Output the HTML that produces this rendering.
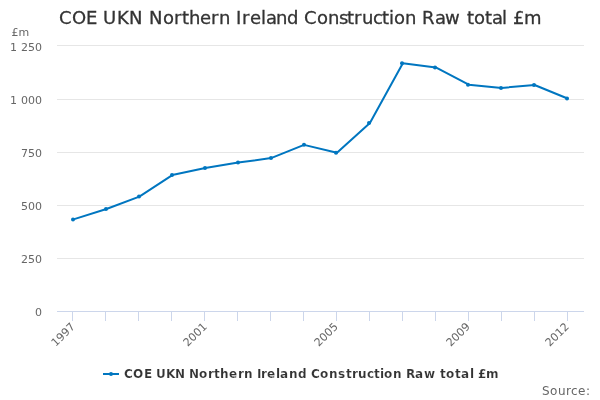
<!DOCTYPE html>
<html><head><meta charset="utf-8"><title>COE UKN Northern Ireland Construction Raw total £m</title>
<style>html,body{margin:0;padding:0;width:600px;height:400px;overflow:hidden;background:#fff}
text{font-family:"DejaVu Sans","Liberation Sans",sans-serif;font-kerning:none}</style>
</head><body>
<svg width="600" height="400" viewBox="0 0 600 400" font-family="DejaVu Sans, sans-serif" style="position:absolute;left:0;top:0">
<rect x="0" y="0" width="600" height="400" fill="#ffffff"/>
<text x="59 72 86 97 103 117 129 143 149 163 174 182 189 200 211 219 230 236 242 250 261 266 276 287 298 304 317 328 339 347 354 362 373 382 389 394 405 416 422 435 445 461 467 474 485 492 502 507 513 524" y="24" font-size="18" fill="#333333" xml:space="preserve" stroke="#333333" stroke-width="0.3">COE UKN Northern Ireland Construction Raw total £m</text>
<path d="M 57 45.5 L 584 45.5" stroke="#e6e6e6" stroke-width="1" fill="none"/>
<path d="M 57 99.5 L 584 99.5" stroke="#e6e6e6" stroke-width="1" fill="none"/>
<path d="M 57 152.5 L 584 152.5" stroke="#e6e6e6" stroke-width="1" fill="none"/>
<path d="M 57 205.5 L 584 205.5" stroke="#e6e6e6" stroke-width="1" fill="none"/>
<path d="M 57 258.5 L 584 258.5" stroke="#e6e6e6" stroke-width="1" fill="none"/>
<path d="M 57 311.5 L 584 311.5" stroke="#ccd6eb" stroke-width="1" fill="none"/>
<path d="M 72.5 311 L 72.5 321" stroke="#ccd6eb" stroke-width="1" fill="none"/>
<path d="M 105.5 311 L 105.5 321" stroke="#ccd6eb" stroke-width="1" fill="none"/>
<path d="M 138.5 311 L 138.5 321" stroke="#ccd6eb" stroke-width="1" fill="none"/>
<path d="M 171.5 311 L 171.5 321" stroke="#ccd6eb" stroke-width="1" fill="none"/>
<path d="M 204.5 311 L 204.5 321" stroke="#ccd6eb" stroke-width="1" fill="none"/>
<path d="M 237.5 311 L 237.5 321" stroke="#ccd6eb" stroke-width="1" fill="none"/>
<path d="M 270.5 311 L 270.5 321" stroke="#ccd6eb" stroke-width="1" fill="none"/>
<path d="M 303.5 311 L 303.5 321" stroke="#ccd6eb" stroke-width="1" fill="none"/>
<path d="M 336.5 311 L 336.5 321" stroke="#ccd6eb" stroke-width="1" fill="none"/>
<path d="M 369.5 311 L 369.5 321" stroke="#ccd6eb" stroke-width="1" fill="none"/>
<path d="M 402.5 311 L 402.5 321" stroke="#ccd6eb" stroke-width="1" fill="none"/>
<path d="M 435.5 311 L 435.5 321" stroke="#ccd6eb" stroke-width="1" fill="none"/>
<path d="M 468.5 311 L 468.5 321" stroke="#ccd6eb" stroke-width="1" fill="none"/>
<path d="M 501.5 311 L 501.5 321" stroke="#ccd6eb" stroke-width="1" fill="none"/>
<path d="M 534.5 311 L 534.5 321" stroke="#ccd6eb" stroke-width="1" fill="none"/>
<path d="M 567.5 311 L 567.5 321" stroke="#ccd6eb" stroke-width="1" fill="none"/>
<text x="10 17 21 28 35" y="51" font-size="11" fill="#666666" xml:space="preserve">1 250</text>
<text x="10 17 21 28 35" y="104" font-size="11" fill="#666666" xml:space="preserve">1 000</text>
<text x="21 28 35" y="157" font-size="11" fill="#666666" xml:space="preserve">750</text>
<text x="21 28 35" y="210" font-size="11" fill="#666666" xml:space="preserve">500</text>
<text x="21 28 35" y="263" font-size="11" fill="#666666" xml:space="preserve">250</text>
<text x="35" y="316" font-size="11" fill="#666666" xml:space="preserve">0</text>
<text x="11.4 18.4" y="36" font-size="11" fill="#666666" xml:space="preserve">£m</text>
<text x="47.6 54.6 61.6 68.6" y="327.3" font-size="11" fill="#666666" xml:space="preserve" transform="rotate(-45 75.6 327.3)">1997</text>
<text x="179.6 186.6 193.6 200.6" y="327.3" font-size="11" fill="#666666" xml:space="preserve" transform="rotate(-45 207.6 327.3)">2001</text>
<text x="310.6 317.6 324.6 331.6" y="327.3" font-size="11" fill="#666666" xml:space="preserve" transform="rotate(-45 338.6 327.3)">2005</text>
<text x="442.6 449.6 456.6 463.6" y="327.3" font-size="11" fill="#666666" xml:space="preserve" transform="rotate(-45 470.6 327.3)">2009</text>
<text x="541.6 548.6 555.6 562.6" y="327.3" font-size="11" fill="#666666" xml:space="preserve" transform="rotate(-45 569.6 327.3)">2012</text>
<path d="M 73.47 219.40 L 106.41 209.00 L 139.34 196.60 L 172.28 175.10 L 205.22 168.05 L 238.16 162.60 L 271.09 158.10 L 304.03 144.85 L 336.97 152.80 L 369.91 123.00 L 402.84 63.30 L 435.78 67.40 L 468.72 84.70 L 501.66 87.90 L 534.59 85.00 L 567.53 98.50" stroke="#0076c0" stroke-width="2" fill="none" stroke-linejoin="round" stroke-linecap="round"/>
<circle cx="73.00" cy="219.40" r="2" fill="#0076c0"/>
<circle cx="106.00" cy="209.00" r="2" fill="#0076c0"/>
<circle cx="139.00" cy="196.60" r="2" fill="#0076c0"/>
<circle cx="172.00" cy="175.10" r="2" fill="#0076c0"/>
<circle cx="205.00" cy="168.05" r="2" fill="#0076c0"/>
<circle cx="238.00" cy="162.60" r="2" fill="#0076c0"/>
<circle cx="271.00" cy="158.10" r="2" fill="#0076c0"/>
<circle cx="304.00" cy="144.85" r="2" fill="#0076c0"/>
<circle cx="336.00" cy="152.80" r="2" fill="#0076c0"/>
<circle cx="369.00" cy="123.00" r="2" fill="#0076c0"/>
<circle cx="402.00" cy="63.30" r="2" fill="#0076c0"/>
<circle cx="435.00" cy="67.40" r="2" fill="#0076c0"/>
<circle cx="468.00" cy="84.70" r="2" fill="#0076c0"/>
<circle cx="501.00" cy="87.90" r="2" fill="#0076c0"/>
<circle cx="534.00" cy="85.00" r="2" fill="#0076c0"/>
<circle cx="567.00" cy="98.50" r="2" fill="#0076c0"/>
<path d="M 103 374 L 119 374" stroke="#0076c0" stroke-width="2" fill="none"/>
<circle cx="111" cy="374" r="2" fill="#0076c0"/>
<text x="124 133 144 152 156 166 175 185 189 199 208 214 220 229 238 244 253 257 261 267 276 280 289 298 307 311 320 329 338 346 352 358 367 374 380 384 393 402 406 415 424 436 440 446 455 461 470 474 478 486" y="378" font-size="12" font-weight="bold" fill="#333333" xml:space="preserve" stroke="#ffffff" stroke-width="0.15">COE UKN Northern Ireland Construction Raw total £m</text>
<text x="542 550 558 566 571 578 586" y="395" font-size="12" fill="#666666" xml:space="preserve">Source:</text>
</svg>
</body></html>
